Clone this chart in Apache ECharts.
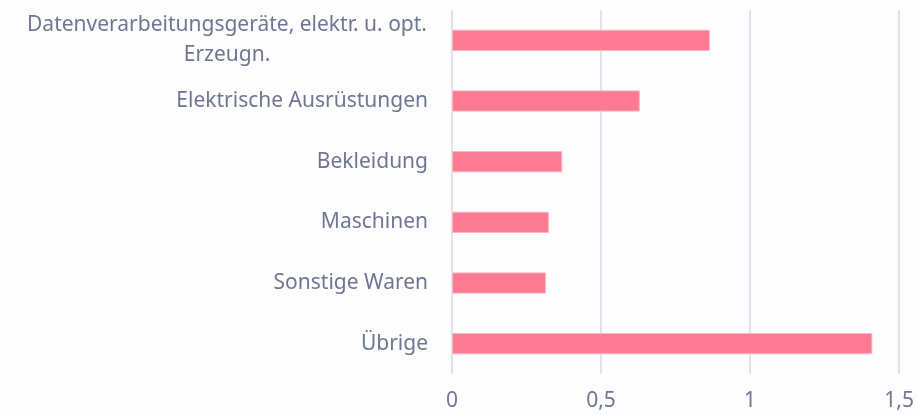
<!DOCTYPE html>
<html>
<head>
<meta charset="utf-8">
<script src="https://cdn.jsdelivr.net/npm/echarts@6/dist/echarts.min.js"></script>
<style>
    html, body { margin: 0; padding: 0; background: #fdfdfe; }
    #chart_01 { width: 917px; height: 415px; }
</style>
</head>
<body>
<div id="chart_01"></div>
<script>
// categories from top to bottom
var categories = [
    'Datenverarbeitungsgeräte, elektr. u. opt.\nErzeugn.',
    'Elektrische Ausrüstungen',
    'Bekleidung',
    'Maschinen',
    'Sonstige Waren',
    'Übrige'
];
var values = [0.865, 0.63, 0.37, 0.325, 0.315, 1.41];
var xTicks = [0, 0.5, 1, 1.5];

var myChart = echarts.init(document.getElementById('chart_01'));
var option = {
    backgroundColor: '#fdfdfe',
    textStyle: {
        fontFamily: '"Source Sans Pro", "Noto Sans", sans-serif'
    },
    grid: {
        left: 452,
        right: 17,
        top: 10,
        bottom: 41
    },
    xAxis: {
        type: 'value',
        min: xTicks[0],
        max: xTicks[xTicks.length - 1],
        interval: 0.5,
        axisLine: { show: false },
        axisTick: { show: false },
        splitLine: {
            lineStyle: { color: '#e2e2ea', width: 2 }
        },
        axisLabel: {
            color: '#6f7692',
            fontSize: 21,
            margin: 17,
            formatter: function (v) {
                return String(v).replace('.', ',');
            }
        }
    },
    yAxis: {
        type: 'category',
        inverse: true,
        data: categories,
        axisLine: { show: false },
        axisTick: { show: false },
        axisLabel: {
            color: '#6f7692',
            fontSize: 21,
            lineHeight: 30,
            margin: 24,
            formatter: function (v) {
                if (v.indexOf('\n') < 0) return v;
                return v.split('\n').map(function (s) {
                    return '{c|' + s + '}';
                }).join('\n');
            },
            rich: {
                c: {
                    color: '#6f7692',
                    fontSize: 21,
                    lineHeight: 30,
                    width: 402,
                    align: 'center'
                }
            }
        }
    },
    series: [{
        type: 'bar',
        data: values,
        barWidth: '35%',
        itemStyle: {
            color: '#fd7b92',
            borderColor: '#fdb5c2',
            borderWidth: 1
        }
    }]
};
myChart.setOption(option);
window.addEventListener('resize', function () {
    myChart.resize();
});
</script>
</body>
</html>
